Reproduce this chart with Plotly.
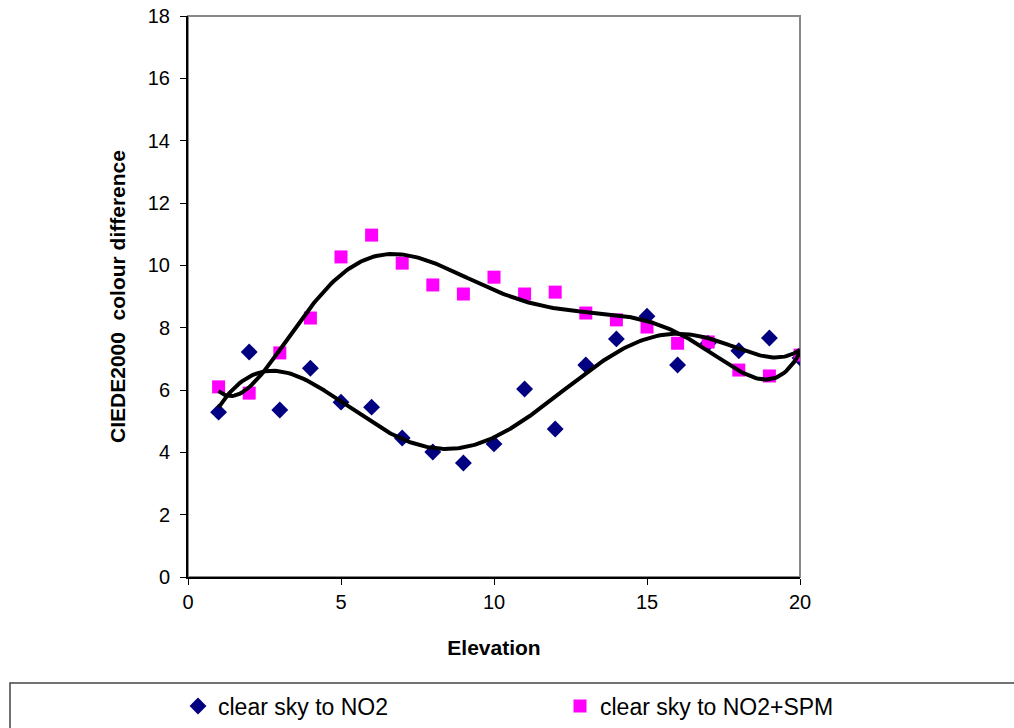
import numpy as np
import plotly.graph_objects as go

elevation = list(range(1, 21))
no2 = [5.29, 7.22, 5.36, 6.70, 5.61, 5.45, 4.46, 4.01, 3.66, 4.27,
       6.03, 4.75, 6.80, 7.64, 8.37, 6.80, 7.50, 7.26, 7.67, 7.03]
no2_spm = [6.10, 5.90, 7.19, 8.31, 10.27, 10.97, 10.07, 9.37, 9.08, 9.62,
           9.08, 9.14, 8.47, 8.25, 8.02, 7.50, 7.54, 6.64, 6.45, 7.12]

x_arr = np.array(elevation, dtype=float)
xs = np.linspace(1, 20, 300)
fit1 = np.polyval(np.polyfit(x_arr, no2, 6), xs)
fit2 = np.polyval(np.polyfit(x_arr, no2_spm, 6), xs)

FONT = "Liberation Sans, Arial, sans-serif"
PW, PH = 612, 561

fig = go.Figure()
fig.add_trace(go.Scatter(x=elevation, y=no2, mode="markers", name="clear sky to NO2",
                         marker=dict(symbol="diamond", color="#000080", size=13),
                         legend="legend"))
fig.add_trace(go.Scatter(x=elevation, y=no2_spm, mode="markers", name="clear sky to NO2+SPM",
                         marker=dict(symbol="square", color="#FF00FF", size=13),
                         legend="legend2"))
fig.add_trace(go.Scatter(x=xs, y=fit1, mode="lines", line=dict(color="black", width=4),
                         showlegend=False, hoverinfo="skip"))
fig.add_trace(go.Scatter(x=xs, y=fit2, mode="lines", line=dict(color="black", width=4),
                         showlegend=False, hoverinfo="skip"))

leg_common = dict(orientation="h", yanchor="middle", font=dict(size=23),
                  bgcolor="rgba(0,0,0,0)", borderwidth=0, itemsizing="trace")

fig.update_layout(
    width=1014, height=728,
    margin=dict(l=188, r=214, t=16, b=151, autoexpand=False),
    paper_bgcolor="white", plot_bgcolor="white",
    font=dict(family=FONT, color="black", size=18),
    xaxis=dict(range=[0, 20], tickvals=[0, 5, 10, 15, 20], showgrid=False, zeroline=False,
               showline=True, linecolor="black", linewidth=2, ticks="outside", ticklen=6,
               tickcolor="black", tickfont=dict(size=20),
               title=dict(text="<b>Elevation</b>", font=dict(size=21), standoff=28)),
    yaxis=dict(range=[0, 18], dtick=2, showgrid=False, zeroline=False,
               showline=True, linecolor="black", linewidth=2, ticks="outside", ticklen=6,
               tickcolor="black", tickfont=dict(size=20), ticklabelstandoff=6,
               title=dict(text="<b>CIEDE2000  colour difference</b>", font=dict(size=21), standoff=16)),
    legend=dict(x=(178 - 188) / PW, y=-(706 - 577) / PH, xanchor="left", **leg_common),
    legend2=dict(x=(560 - 188) / PW, y=-(706 - 577) / PH, xanchor="left", **leg_common),
    shapes=[
        dict(type="rect", xref="paper", yref="paper", x0=0, x1=1, y0=0, y1=1,
             line=dict(color="#888888", width=2), layer="below"),
        dict(type="rect", xref="paper", yref="paper",
             x0=-(188 - 10) / PW, x1=(1020 - 188) / PW,
             y0=-(735 - 577) / PH, y1=-(683 - 577) / PH,
             line=dict(color="#444444", width=1.5)),
    ],
)

fig.write_html("out.html")
